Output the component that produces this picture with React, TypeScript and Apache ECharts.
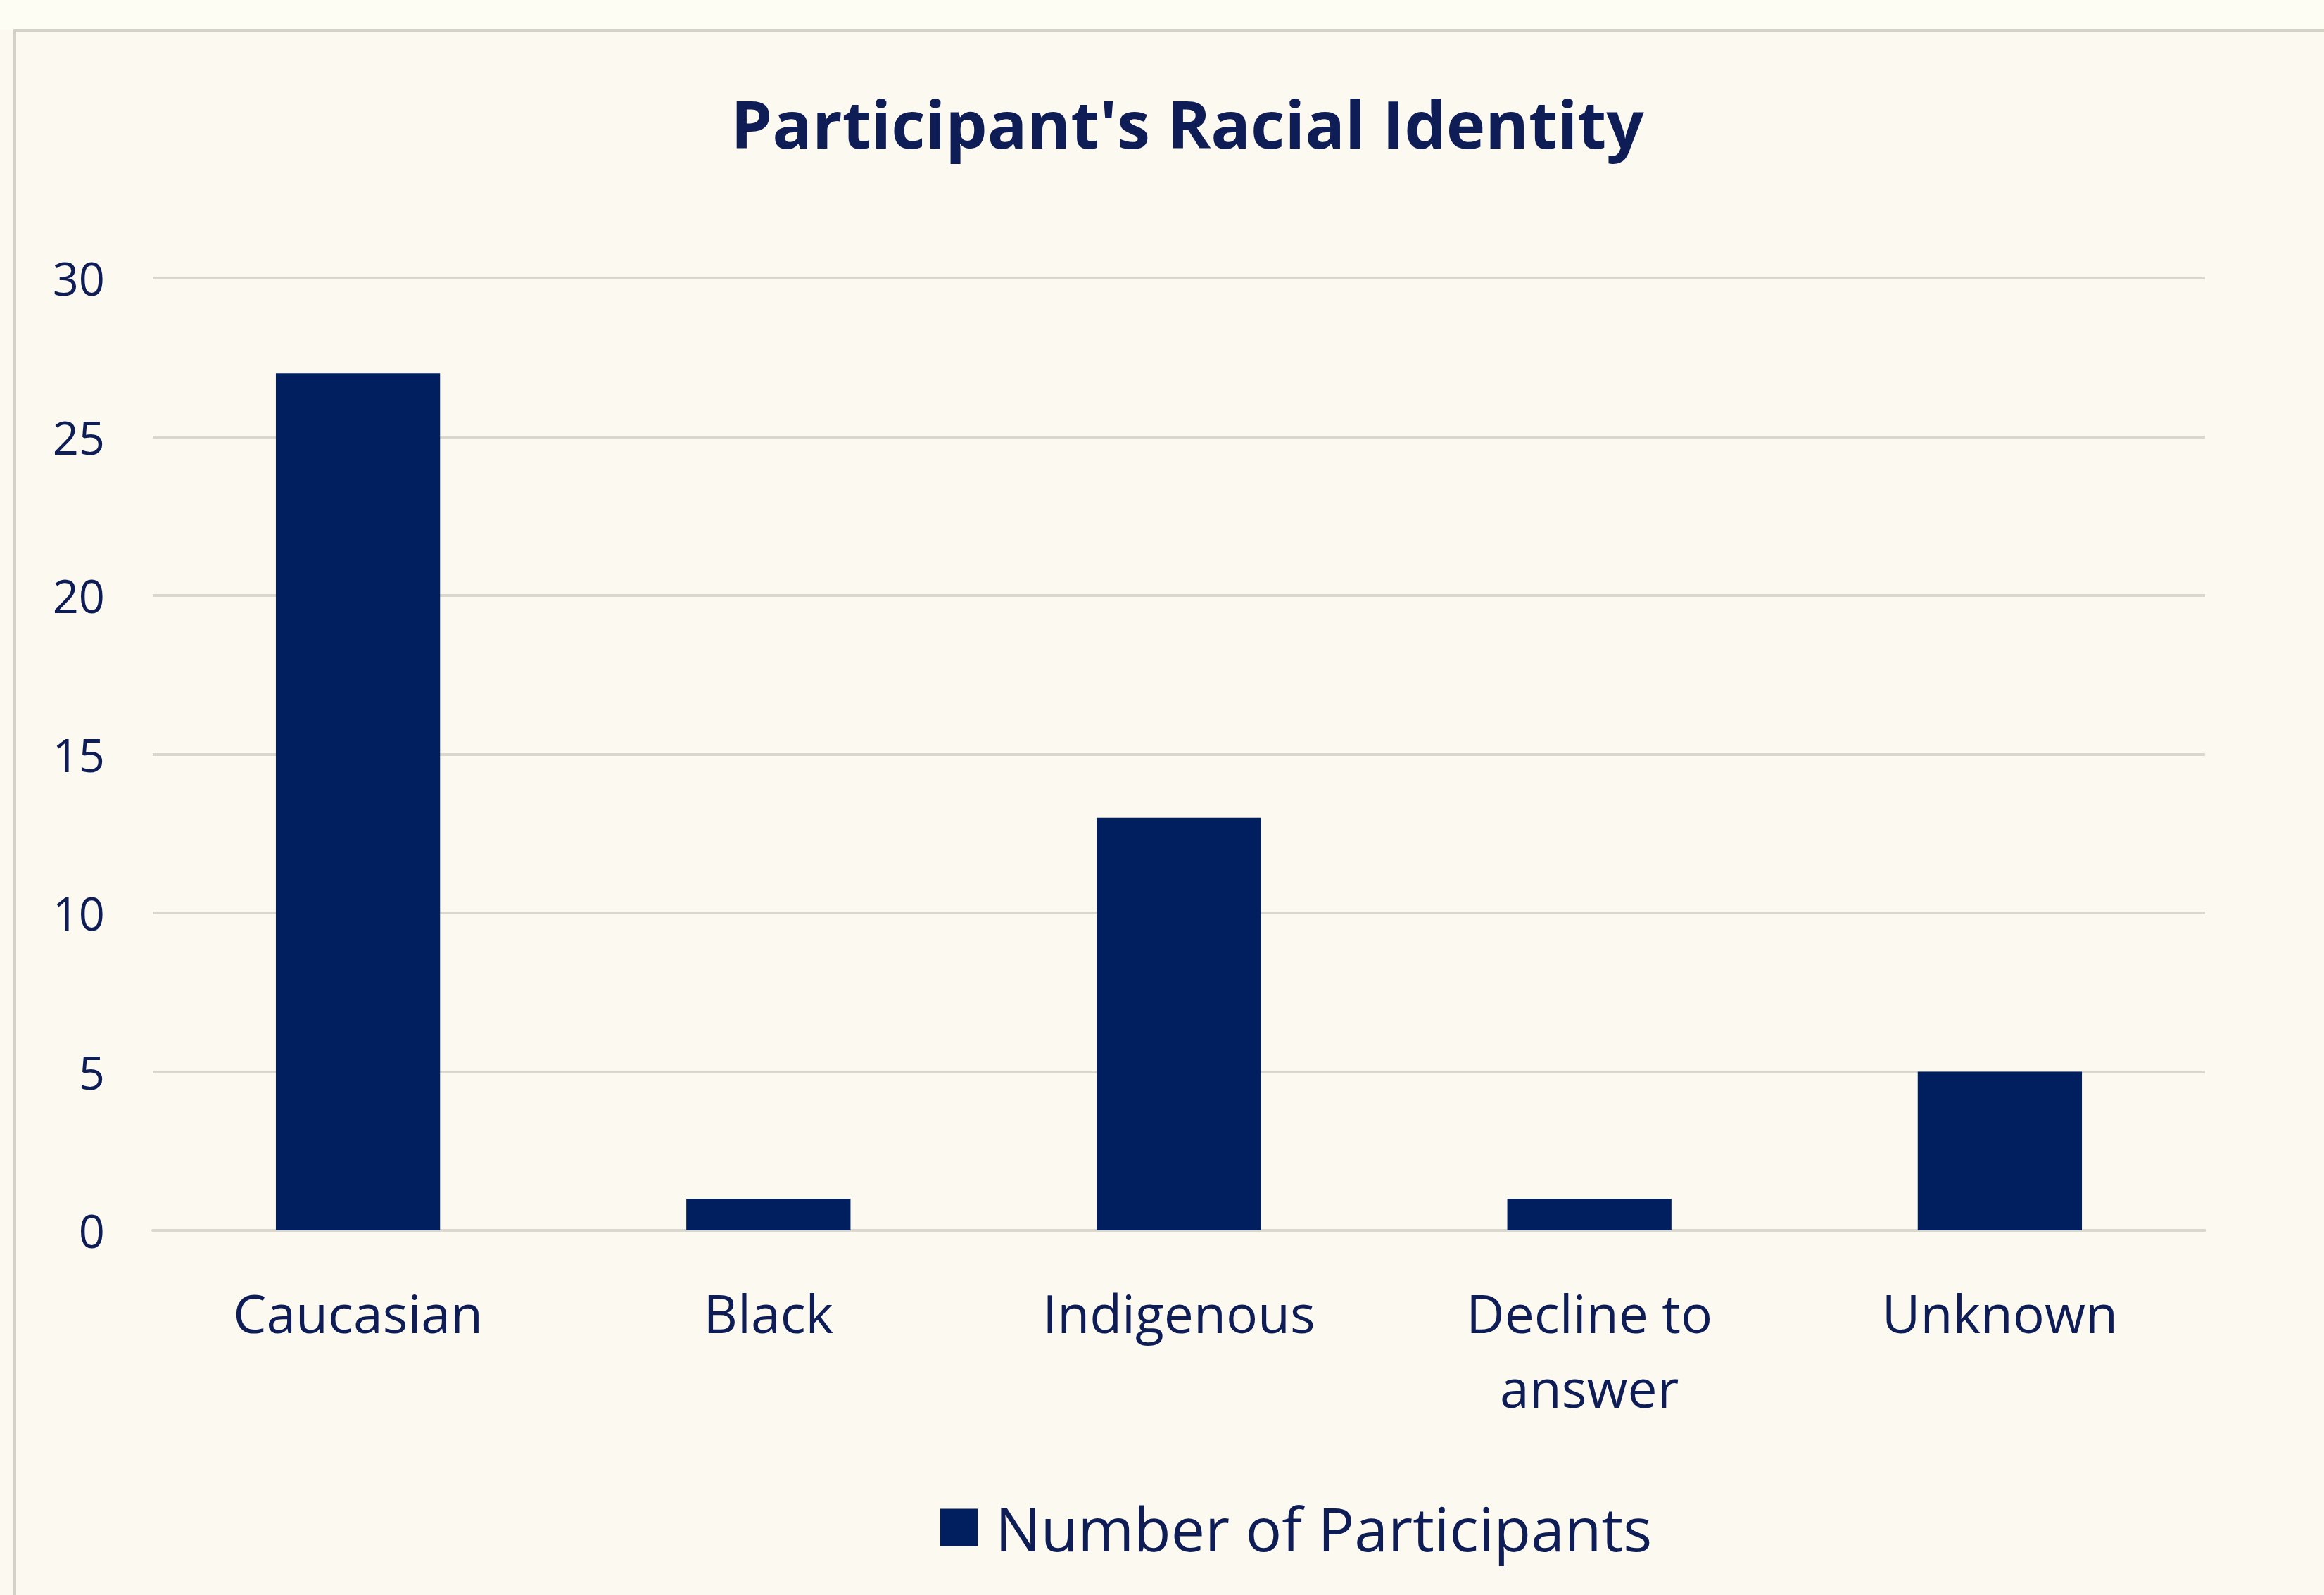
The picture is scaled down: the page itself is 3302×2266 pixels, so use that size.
import React, { useEffect, useRef } from "react";
import * as echarts from "echarts";

const categories = ["Caucasian", "Black", "Indigenous", "Decline to\nanswer", "Unknown"];
const participants = [27, 1, 13, 1, 5];
const seriesName = "Number of Participants";
const chartTitle = "Participant's Racial Identity";

const NAVY = "#011E5F";
const TEXT = "#0F1D57";
const GRID = "#DAD7CF";
const FONT = "'Open Sans', 'Noto Sans', sans-serif";

export default function App() {
  const ref = useRef<HTMLDivElement>(null);

  useEffect(() => {
    if (!ref.current) return;
    const chart = echarts.init(ref.current, undefined, { renderer: "svg" });
    chart.setOption({
      animation: false,
      backgroundColor: "#FCF9F0",
      graphic: [
        {
          type: "rect",
          z: -10,
          shape: { x: 0, y: 0, width: 3302, height: 42 },
          style: { fill: "#FEFDF4" },
        },
        {
          type: "rect",
          z: -9,
          shape: { x: 21, y: 43, width: 3400, height: 2400 },
          style: { fill: "none", stroke: "#D4D1C7", lineWidth: 4 },
        },
      ],
      title: {
        text: chartTitle,
        left: 1682,
        top: 110,
        textAlign: "center",
        textStyle: {
          color: TEXT,
          fontFamily: FONT,
          fontWeight: "bold",
          fontSize: 94,
          lineHeight: 120,
        },
      },
      legend: {
        data: [seriesName],
        left: 1331,
        top: 2122,
        icon: "rect",
        itemWidth: 53,
        itemHeight: 53,
        textStyle: {
          color: TEXT,
          fontFamily: FONT,
          fontSize: 86,
          lineHeight: 53,
          padding: [0, 0, 0, 20],
        },
      },
      grid: {
        left: 217,
        right: 3302 - 3133,
        top: 395,
        bottom: 2266 - 1748,
        containLabel: false,
      },
      xAxis: {
        type: "category",
        data: categories,
        axisLine: { show: true, lineStyle: { color: GRID, width: 4 } },
        axisTick: { show: false },
        axisLabel: {
          color: TEXT,
          fontFamily: FONT,
          fontSize: 75,
          lineHeight: 106,
          margin: 64,
          interval: 0,
        },
      },
      yAxis: {
        type: "value",
        min: 0,
        max: 30,
        interval: 5,
        axisLine: { show: false },
        axisTick: { show: false },
        splitLine: { lineStyle: { color: GRID, width: 4 } },
        axisLabel: {
          color: TEXT,
          fontFamily: FONT,
          fontSize: 65,
          margin: 68,
        },
      },
      series: [
        {
          name: seriesName,
          type: "bar",
          data: participants,
          barWidth: "40%",
          itemStyle: { color: NAVY },
        },
      ],
    });
    return () => chart.dispose();
  }, []);

  return (
    <div
      ref={ref}
      style={{ position: "fixed", left: 0, top: 0, width: 3302, height: 2266 }}
    />
  );
}
